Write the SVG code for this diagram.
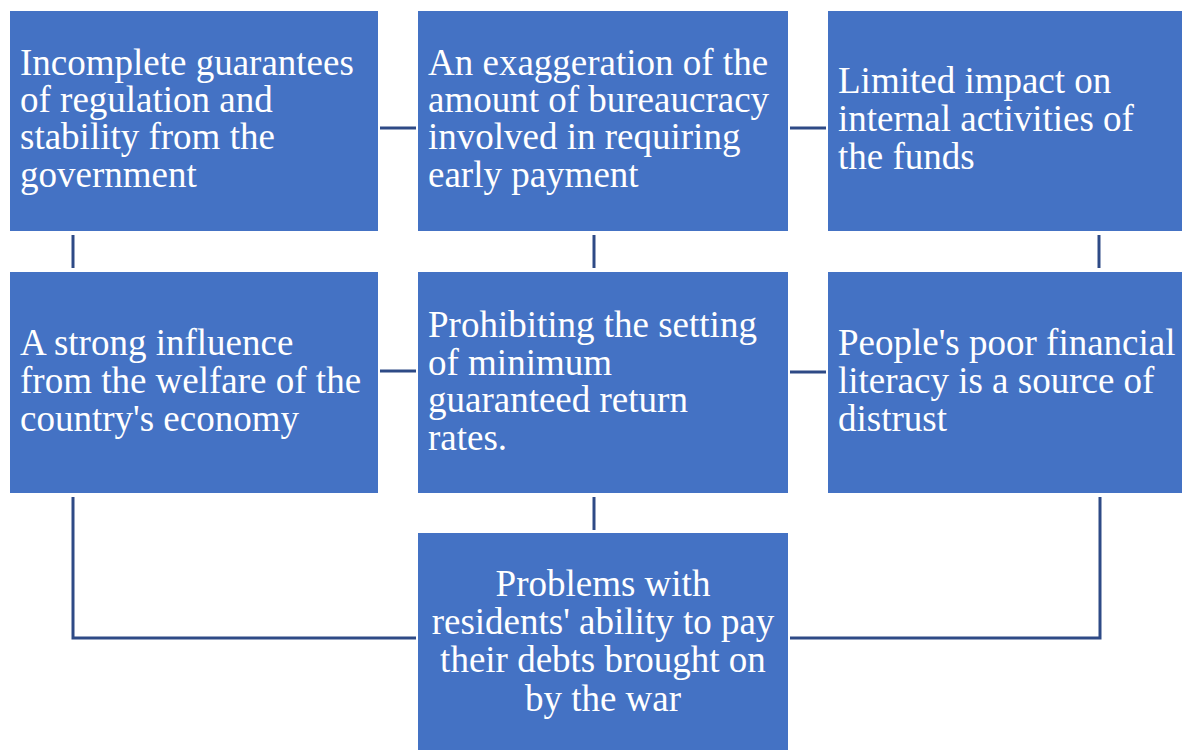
<svg xmlns="http://www.w3.org/2000/svg" width="1182" height="750" viewBox="0 0 1182 750">
  <style>
    .box { fill: #4472C4; }
    .lbl { fill: #FFFFFF; font-family: "Liberation Serif", "Times New Roman", serif; font-size: 37px; }
    .mid { text-anchor: middle; }
    .link { fill: none; stroke: #2E4A86; stroke-width: 3; }
  </style>
  <rect width="1182" height="750" fill="#FFFFFF"/>

  <g id="connectors">
    <!-- row 1 -->
    <line class="link" x1="380" y1="128" x2="416" y2="128"/>
    <line class="link" x1="790" y1="128" x2="826" y2="128"/>
    <!-- row 2 -->
    <line class="link" x1="380" y1="371" x2="416" y2="371"/>
    <line class="link" x1="790" y1="372" x2="826" y2="372"/>
    <!-- between rows 1 and 2 -->
    <line class="link" x1="73" y1="235" x2="73" y2="268"/>
    <line class="link" x1="594" y1="235" x2="594" y2="268"/>
    <line class="link" x1="1099" y1="235" x2="1099" y2="268"/>
    <!-- into the bottom box -->
    <line class="link" x1="594" y1="497" x2="594" y2="530"/>
    <polyline class="link" points="73,497 73,638 416,638"/>
    <polyline class="link" points="1100,497 1100,638 790,638"/>
  </g>

  <g id="node-guarantees">
    <rect class="box" x="10" y="11" width="368" height="220"/>
    <text class="lbl" x="20"><tspan x="20" y="75">Incomplete guarantees</tspan><tspan x="20" y="112">of regulation and</tspan><tspan x="20" y="149">stability from the</tspan><tspan x="20" y="187">government</tspan></text>
  </g>

  <g id="node-bureaucracy">
    <rect class="box" x="418" y="11" width="370" height="220"/>
    <text class="lbl"><tspan x="428" y="75">An exaggeration of the</tspan><tspan x="428" y="112">amount of bureaucracy</tspan><tspan x="428" y="149">involved in requiring</tspan><tspan x="428" y="187">early payment</tspan></text>
  </g>

  <g id="node-funds">
    <rect class="box" x="828" y="11" width="360" height="220"/>
    <text class="lbl"><tspan x="838" y="93">Limited impact on</tspan><tspan x="838" y="131">internal activities of</tspan><tspan x="838" y="169">the funds</tspan></text>
  </g>

  <g id="node-economy">
    <rect class="box" x="10" y="272" width="368" height="221"/>
    <text class="lbl"><tspan x="20" y="355">A strong influence</tspan><tspan x="20" y="393">from the welfare of the</tspan><tspan x="20" y="431">country's economy</tspan></text>
  </g>

  <g id="node-return-rates">
    <rect class="box" x="418" y="272" width="370" height="221"/>
    <text class="lbl"><tspan x="428" y="337">Prohibiting the setting</tspan><tspan x="428" y="375">of minimum</tspan><tspan x="428" y="412">guaranteed return</tspan><tspan x="428" y="450">rates.</tspan></text>
  </g>

  <g id="node-literacy">
    <rect class="box" x="828" y="272" width="360" height="221"/>
    <text class="lbl"><tspan x="838" y="355">People's poor financial</tspan><tspan x="838" y="393">literacy is a source of</tspan><tspan x="838" y="431">distrust</tspan></text>
  </g>

  <g id="node-debts">
    <rect class="box" x="418" y="533" width="370" height="220"/>
    <text class="lbl mid"><tspan x="603" y="596">Problems with</tspan><tspan x="603" y="634">residents' ability to pay</tspan><tspan x="603" y="672">their debts brought on</tspan><tspan x="603" y="711">by the war</tspan></text>
  </g>
</svg>
